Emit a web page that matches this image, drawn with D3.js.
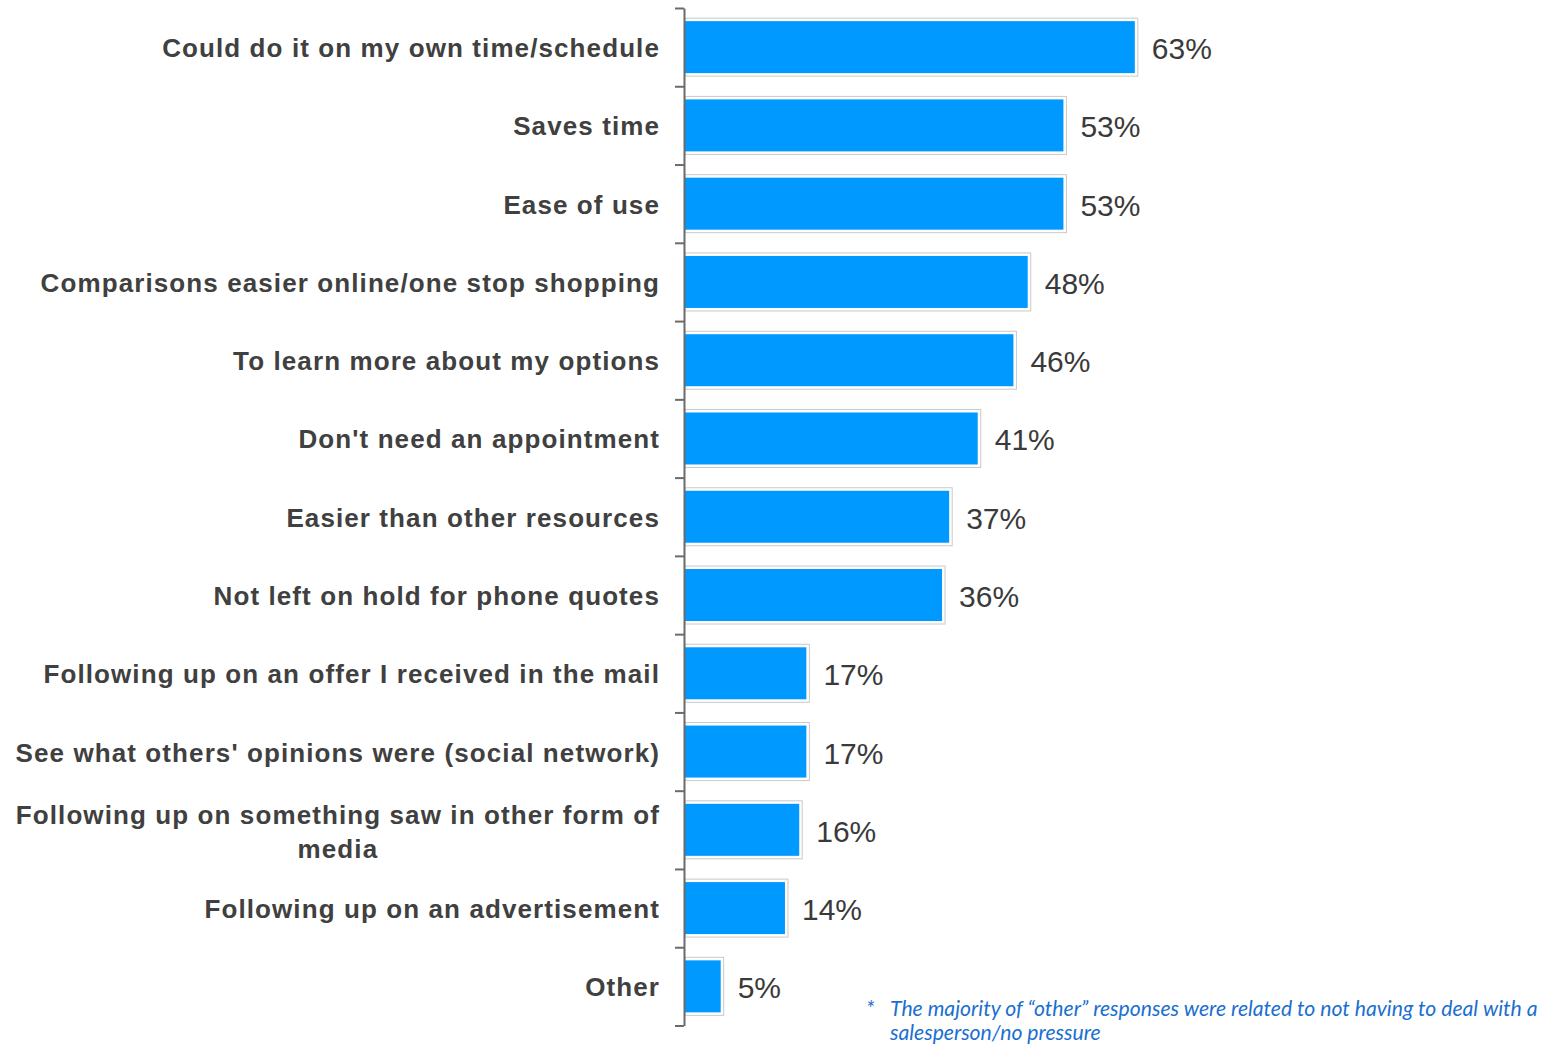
<!DOCTYPE html>
<html>
<head>
<meta charset="utf-8">
<script src="https://cdn.jsdelivr.net/npm/d3@7/dist/d3.min.js"></script>
<style>
  html, body { margin: 0; padding: 0; background: #ffffff; }
  svg { display: block; }
</style>
</head>
<body>
<svg id="chart" width="1556" height="1044"></svg>
<script>
// Reasons given for going online, share of respondents
const categories = [
  "Could do it on my own time/schedule",
  "Saves time",
  "Ease of use",
  "Comparisons easier online/one stop shopping",
  "To learn more about my options",
  "Don't need an appointment",
  "Easier than other resources",
  "Not left on hold for phone quotes",
  "Following up on an offer I received in the mail",
  "See what others' opinions were (social network)",
  ["Following up on something saw in other form of", "media"],
  "Following up on an advertisement",
  "Other"
];
const values = [63, 53, 53, 48, 46, 41, 37, 36, 17, 17, 16, 14, 5];
const footnoteLines = [
  "The majority of \u201cother\u201d responses were related to not having to deal with a",
  "salesperson/no pressure"
];

const svg = d3.select("#chart");

const axisX = 685;
const plotTop = 8, plotBottom = 1025.5;

const x = d3.scaleLinear().domain([0, 100]).range([axisX, axisX + 714]);
const y = d3.scaleBand().domain(d3.range(categories.length)).range([plotTop, plotBottom]).paddingInner(0).paddingOuter(0);
const edge = d3.scaleLinear().domain([0, categories.length]).range([plotTop, plotBottom]);

// Bars: white frame with a light grey outline around the blue fill
const rows = svg.append("g").selectAll("g").data(values).join("g")
  .attr("transform", (d, i) => `translate(0,${y(i) + y.bandwidth() / 2})`);

rows.append("rect")
  .attr("x", axisX)
  .attr("y", -29)
  .attr("width", d => x(d) - axisX + 3)
  .attr("height", 58)
  .attr("fill", "#ffffff")
  .attr("stroke", "#c9c9c9")
  .attr("stroke-width", 1);

rows.append("rect")
  .attr("x", axisX)
  .attr("y", -26)
  .attr("width", d => x(d) - axisX)
  .attr("height", 52)
  .attr("fill", "#0099ff");

rows.append("text")
  .attr("x", d => x(d) + 17)
  .attr("y", 12)
  .attr("font-family", "'Liberation Sans', Arial, sans-serif")
  .attr("font-size", 30)
  .attr("fill", "#3a3a3a")
  .text(d => d + "%");

// Category labels
const labelRight = 660;
const labels = svg.append("g").selectAll("text").data(categories).join("text")
  .attr("font-family", "'Liberation Sans', Arial, sans-serif")
  .attr("font-weight", "bold")
  .attr("font-size", 26)
  .attr("letter-spacing", 1.1)
  .attr("fill", "#404040");

labels.each(function(d, i) {
  const t = d3.select(this);
  const cy = y(i) + y.bandwidth() / 2;
  if (Array.isArray(d)) {
    const lh = 34;
    d.forEach((line, k) => {
      t.append("tspan").attr("y", cy - 6 + k * lh).text(line);
    });
    const w = d3.max(t.selectAll("tspan").nodes(), n => n.getComputedTextLength());
    t.attr("text-anchor", "middle");
    t.selectAll("tspan").attr("x", labelRight - w / 2);
  } else {
    t.attr("text-anchor", "end").attr("x", labelRight).attr("y", cy + 10).text(d);
  }
});

// Axis with ticks at category boundaries
const axis = d3.axisLeft(edge)
  .tickValues(d3.range(categories.length + 1))
  .tickFormat("")
  .tickSize(9)
  .tickSizeOuter(0);

const ag = svg.append("g").attr("transform", `translate(${axisX - 1},0)`).call(axis);
ag.select(".domain").attr("stroke", "#6b6b6b").attr("stroke-width", 2);
ag.selectAll(".tick line").attr("stroke", "#6b6b6b").attr("stroke-width", 2);

// Footnote
const fn = svg.append("g").attr("fill", "#1a6fd0")
  .attr("font-family", "Lato, 'Open Sans', sans-serif")
  .attr("font-style", "italic")
  .attr("font-size", 20);
fn.append("text").attr("x", 866).attr("y", 1016).text("*");
const fnText = fn.selectAll("text.line").data(footnoteLines).join("text")
  .attr("class", "line")
  .attr("x", 890)
  .attr("y", (d, i) => 1016 + i * 24)
  .text(d => d);
// fit the first line to its column width
const w0 = fnText.nodes()[0].getComputedTextLength();
const fs = 20 * 648 / w0;
fn.attr("font-size", fs);
</script>
</body>
</html>
